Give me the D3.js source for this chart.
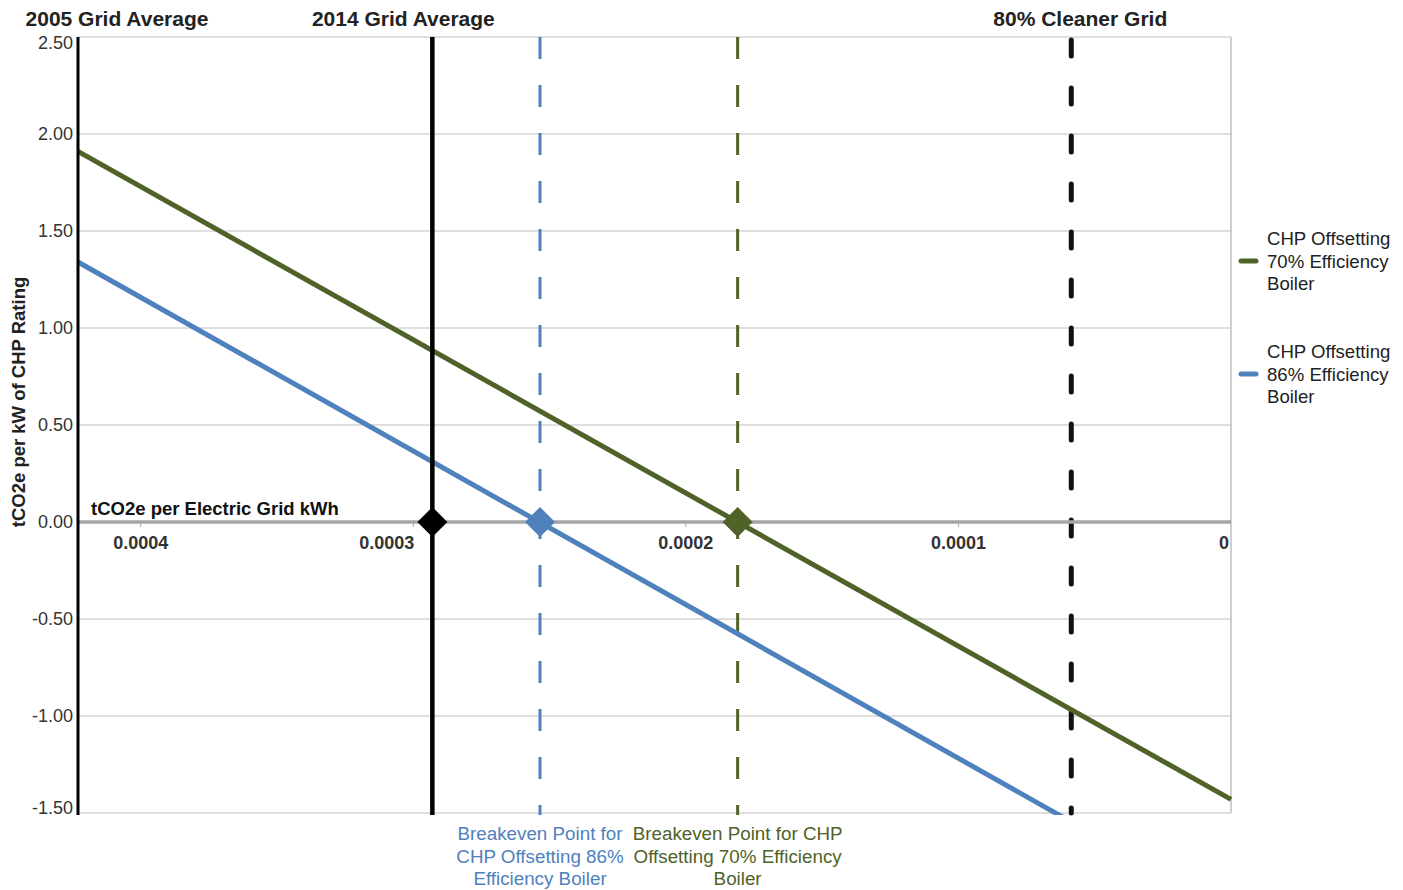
<!DOCTYPE html>
<html><head><meta charset="utf-8">
<script src="https://cdn.jsdelivr.net/npm/d3@7"></script>
<style>body{margin:0;background:#fff;} svg{font-family:"Liberation Sans",Arial,sans-serif;}</style>
</head><body>
<svg id="c" width="1403" height="890"></svg>
<script>
// ---- data ----
const xDomain = [0.000423, 0];
const yDomain = [-1.5, 2.5];
const xTicks = [0.0004, 0.0003, 0.0002, 0.0001, 0];
const xTickLabels = ["0.0004", "0.0003", "0.0002", "0.0001", "0"];
const yTicks = [2.5, 2.0, 1.5, 1.0, 0.5, 0.0, -0.5, -1.0, -1.5];
const yTickLabels = ["2.50", "2.00", "1.50", "1.00", "0.50", "0.00", "-0.50", "-1.00", "-1.50"];
const seriesNames = ["CHP Offsetting 70% Efficiency Boiler", "CHP Offsetting 86% Efficiency Boiler"];
const greenX = [0.000423, 0];
const greenY = [1.91, -1.43];
const blueX = [0.000423, 0];
const blueY = [1.34, -2.01];
const refNames = ["2005 Grid Average", "2014 Grid Average", "80% Cleaner Grid"];
const refValues = [0.000423, 0.000293, 0.0000586];
const breakevenNames = ["Breakeven Point for CHP Offsetting 86% Efficiency Boiler", "Breakeven Point for CHP Offsetting 70% Efficiency Boiler"];
const breakevenValues = [0.0002535, 0.000181];

// ---- layout ----
const svg = d3.select("#c");
const L = 78, R = 1231, T = 37, B = 813;
const x = d3.scaleLinear().domain(xDomain).range([L, R]);
const y = d3.scaleLinear().domain(yDomain).range([B, T]);
const GREEN = "#4f6228", BLUE = "#4f81bd";

// gridlines
svg.append("g").selectAll("line").data(yTicks).join("line")
  .attr("x1", L).attr("x2", R).attr("y1", d => y(d)).attr("y2", d => y(d))
  .attr("stroke", "#bfbfbf").attr("stroke-width", 1.2);
// right border
svg.append("line").attr("x1", R).attr("x2", R).attr("y1", T).attr("y2", B)
  .attr("stroke", "#bfbfbf").attr("stroke-width", 1.5);

// y tick labels
svg.append("g").selectAll("text").data(yTicks).join("text")
  .attr("x", 73)
  .attr("y", d => Math.min(Math.max(y(d), T + 6), B - 5))
  .attr("dy", "0.35em").attr("text-anchor", "end")
  .attr("font-size", 18).attr("fill", "#333")
  .text((d, i) => yTickLabels[i]);

// y axis title
svg.append("text").attr("transform", "translate(25,402) rotate(-90)")
  .attr("text-anchor", "middle").attr("font-weight", "bold").attr("font-size", 18.5)
  .attr("fill", "#222").text("tCO2e per kW of CHP Rating");

// clip
svg.append("clipPath").attr("id", "clip").append("rect")
  .attr("x", L).attr("y", T).attr("width", R - L + 5).attr("height", B - T + 2);

// vertical dashed reference lines
const vg = svg.append("g");
vg.append("line").attr("x1", x(breakevenValues[0])).attr("x2", x(breakevenValues[0]))
  .attr("y1", T).attr("y2", B + 2).attr("stroke", BLUE).attr("stroke-width", 3)
  .attr("stroke-dasharray", "22,26");
vg.append("line").attr("x1", x(breakevenValues[1])).attr("x2", x(breakevenValues[1]))
  .attr("y1", T).attr("y2", B + 2).attr("stroke", GREEN).attr("stroke-width", 3)
  .attr("stroke-dasharray", "22,26");
vg.append("line").attr("x1", x(refValues[2])).attr("x2", x(refValues[2]))
  .attr("y1", T + 3).attr("y2", B).attr("stroke", "#111").attr("stroke-width", 5)
  .attr("stroke-linecap", "round").attr("stroke-dasharray", "16,32");

// zero axis line
svg.append("line").attr("x1", L).attr("x2", R).attr("y1", y(0)).attr("y2", y(0))
  .attr("stroke", "#a6a6a6").attr("stroke-width", 3.5);
// x ticks
svg.append("g").selectAll("line").data(xTicks.slice(0, 4)).join("line")
  .attr("x1", d => x(d)).attr("x2", d => x(d)).attr("y1", y(0) + 1).attr("y2", y(0) + 5)
  .attr("stroke", "#a6a6a6").attr("stroke-width", 1);

// data lines
const line = d3.line().x(d => x(d[0])).y(d => y(d[1]));
const lg = svg.append("g").attr("clip-path", "url(#clip)");
lg.append("path").datum(blueX.map((v, i) => [v, blueY[i]])).attr("d", line)
  .attr("fill", "none").attr("stroke", BLUE).attr("stroke-width", 5);
lg.append("path").datum(greenX.map((v, i) => [v, greenY[i]])).attr("d", line)
  .attr("fill", "none").attr("stroke", GREEN).attr("stroke-width", 5);

// solid black lines: 2005 (left axis) and 2014
svg.append("line").attr("x1", x(refValues[0])).attr("x2", x(refValues[0]))
  .attr("y1", T).attr("y2", B + 2).attr("stroke", "#000").attr("stroke-width", 3);
svg.append("line").attr("x1", x(refValues[1])).attr("x2", x(refValues[1]))
  .attr("y1", T).attr("y2", B + 2).attr("stroke", "#000").attr("stroke-width", 4.5);

// diamonds
const diamond = d3.symbol().type(d3.symbolSquare).size(450);
const diamonds = [[refValues[1], "#000"], [breakevenValues[0], BLUE], [breakevenValues[1], GREEN]];
svg.append("g").selectAll("path").data(diamonds).join("path")
  .attr("d", diamond)
  .attr("transform", d => `translate(${x(d[0])},${y(0)}) rotate(45)`)
  .attr("fill", d => d[1]);

// x tick labels
svg.append("g").selectAll("text").data(xTicks).join("text")
  .attr("x", (d, i) => i === 1 ? x(d) + 1 : (i === 4 ? x(d) - 2 : x(d)))
  .attr("y", 549)
  .attr("text-anchor", (d, i) => (i === 1 || i === 4) ? "end" : "middle")
  .attr("font-size", 18).attr("font-weight", "bold").attr("fill", "#333")
  .text((d, i) => xTickLabels[i]);

// x axis title
svg.append("text").attr("x", 91).attr("y", 515).attr("font-size", 18.5)
  .attr("font-weight", "bold").attr("fill", "#111").text("tCO2e per Electric Grid kWh");

// top labels
const topOffsets = [39, -29, 9];
svg.append("g").selectAll("text").data(refNames).join("text")
  .attr("x", (d, i) => x(refValues[i]) + topOffsets[i]).attr("y", 26)
  .attr("text-anchor", "middle").attr("font-size", 21).attr("font-weight", "bold")
  .attr("fill", "#222").text(d => d);

// bottom annotations
function multi(sel, lines, cx, y0, color) {
  const t = sel.append("text").attr("text-anchor", "middle").attr("font-size", 18.8).attr("fill", color);
  lines.forEach((s, i) => t.append("tspan").attr("x", cx).attr("y", y0 + i * 22.7).text(s));
}
multi(svg, ["Breakeven Point for", "CHP Offsetting 86%", "Efficiency Boiler"], x(breakevenValues[0]), 840, BLUE);
multi(svg, ["Breakeven Point for CHP", "Offsetting 70% Efficiency", "Boiler"], x(breakevenValues[1]), 840, GREEN);

// legend
const legendItems = [
  {lines: ["CHP Offsetting", "70% Efficiency", "Boiler"], color: GREEN, y: 261},
  {lines: ["CHP Offsetting", "86% Efficiency", "Boiler"], color: BLUE, y: 374}
];
legendItems.forEach(it => {
  svg.append("line").attr("x1", 1241).attr("x2", 1256).attr("y1", it.y).attr("y2", it.y)
    .attr("stroke", it.color).attr("stroke-width", 5).attr("stroke-linecap", "round");
  const t = svg.append("text").attr("font-size", 18.6).attr("fill", "#222");
  it.lines.forEach((s, i) => t.append("tspan").attr("x", 1267).attr("y", it.y - 16 + i * 22.7).text(s));
});
</script>
</body></html>
